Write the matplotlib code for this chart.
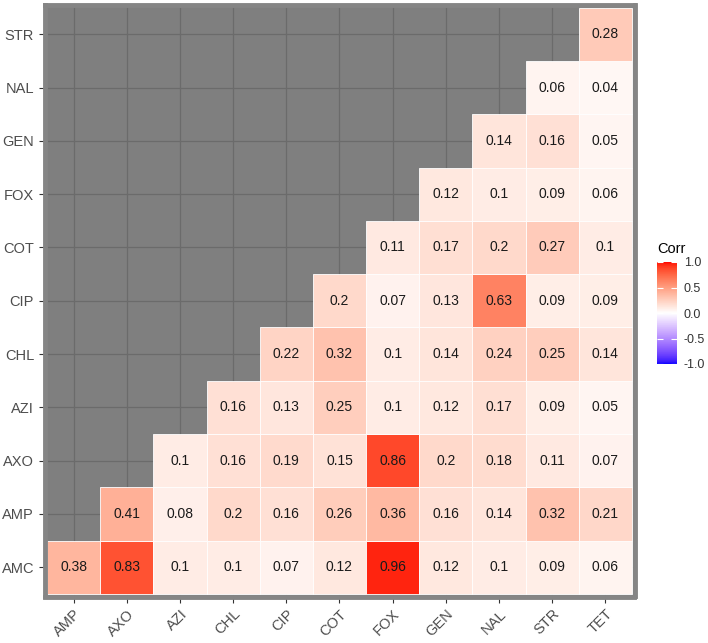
import numpy as np
import matplotlib
matplotlib.use('Agg')
import matplotlib.pyplot as plt
from matplotlib.colors import ListedColormap, Normalize
from matplotlib.patches import Rectangle
from matplotlib.cm import ScalarMappable

plt.rcParams['font.family'] = ['Liberation Sans', 'DejaVu Sans']

x_labels = ['AMP', 'AXO', 'AZI', 'CHL', 'CIP', 'COT', 'FOX', 'GEN', 'NAL', 'STR', 'TET']
y_labels = ['AMC', 'AMP', 'AXO', 'AZI', 'CHL', 'CIP', 'COT', 'FOX', 'GEN', 'NAL', 'STR']

# each row starts at the diagonal and runs to TET
row_amc = [0.38, 0.83, 0.1, 0.1, 0.07, 0.12, 0.96, 0.12, 0.1, 0.09, 0.06]
row_amp = [0.41, 0.08, 0.2, 0.16, 0.26, 0.36, 0.16, 0.14, 0.32, 0.21]
row_axo = [0.1, 0.16, 0.19, 0.15, 0.86, 0.2, 0.18, 0.11, 0.07]
row_azi = [0.16, 0.13, 0.25, 0.1, 0.12, 0.17, 0.09, 0.05]
row_chl = [0.22, 0.32, 0.1, 0.14, 0.24, 0.25, 0.14]
row_cip = [0.2, 0.07, 0.13, 0.63, 0.09, 0.09]
row_cot = [0.11, 0.17, 0.2, 0.27, 0.1]
row_fox = [0.12, 0.1, 0.09, 0.06]
row_gen = [0.14, 0.16, 0.05]
row_nal = [0.06, 0.04]
row_str = [0.28]

rows = [row_amc, row_amp, row_axo, row_azi, row_chl, row_cip,
        row_cot, row_fox, row_gen, row_nal, row_str]


def srgb_to_lab(c):
    c = np.asarray(c, float)
    lin = np.where(c <= 0.04045, c / 12.92, ((c + 0.055) / 1.055) ** 2.4)
    m = np.array([[0.4124, 0.3576, 0.1805],
                  [0.2126, 0.7152, 0.0722],
                  [0.0193, 0.1192, 0.9505]])
    xyz = m @ lin / np.array([0.95047, 1.0, 1.08883])
    f = np.where(xyz > 0.008856, np.cbrt(xyz), 7.787 * xyz + 16 / 116)
    return np.array([116 * f[1] - 16, 500 * (f[0] - f[1]), 200 * (f[1] - f[2])])


def lab_to_srgb(lab):
    L, a, b = lab
    fy = (L + 16) / 116
    fx = fy + a / 500
    fz = fy - b / 200
    f = np.array([fx, fy, fz])
    xyz = np.where(f ** 3 > 0.008856, f ** 3, (f - 16 / 116) / 7.787)
    xyz = xyz * np.array([0.95047, 1.0, 1.08883])
    m = np.array([[3.2406, -1.5372, -0.4986],
                  [-0.9689, 1.8758, 0.0415],
                  [0.0557, -0.2040, 1.0570]])
    lin = np.clip(m @ xyz, 0, 1)
    c = np.where(lin <= 0.0031308, 12.92 * lin, 1.055 * lin ** (1 / 2.4) - 0.055)
    return np.clip(c, 0, 1)


# blue - white - red gradient interpolated in Lab, like ggplot's gradient2
blue = srgb_to_lab([0, 0, 1])
white = srgb_to_lab([1, 1, 1])
red = srgb_to_lab([1, 0, 0])
cols = []
for t in np.linspace(-1, 1, 256):
    if t < 0:
        lab = white + (blue - white) * (-t)
    else:
        lab = white + (red - white) * t
    cols.append(lab_to_srgb(lab))
cmap = ListedColormap(cols)
norm = Normalize(-1, 1)

n = len(x_labels)

fig = plt.figure(figsize=(7.08, 6.43), dpi=100)
W, H = 708, 643
left, right, top, bottom = 44.5, 634.5, 5, 596.5
ax = fig.add_axes([left / W, (H - bottom) / H, (right - left) / W, (bottom - top) / H])
ax.set_facecolor('#7f7f7f')

for i, r in enumerate(rows):
    for k, v in enumerate(r):
        j = i + k
        ax.add_patch(Rectangle((j - 0.5, i - 0.5), 1, 1, facecolor=cmap(norm(v)),
                               edgecolor='white', linewidth=0.6, zorder=2))
        ax.text(j, i, f'{v:g}', ha='center', va='center', fontsize=10,
                color='#1a1a1a', zorder=3)

pad = 0.05
ax.set_xlim(-0.5 - pad, n - 0.5 + pad)
ax.set_ylim(-0.5 - pad, n - 0.5 + pad)
ax.set_xticks(range(n))
ax.set_yticks(range(n))
ax.set_xticklabels(x_labels, rotation=45, ha='right', rotation_mode='anchor')
ax.set_yticklabels(y_labels)
ax.tick_params(colors='#333333', labelcolor='#4d4d4d', labelsize=10.5, length=4, width=0.8)
ax.grid(True, color='#6b6b6b', linewidth=0.9, zorder=0)
ax.set_axisbelow(True)
for s in ax.spines.values():
    s.set_color('#858585')
    s.set_linewidth(3.5)
    s.set_zorder(4)

cax = fig.add_axes([657 / W, (H - 364) / H, 20 / W, 102 / H])
sm = ScalarMappable(norm=norm, cmap=cmap)
cbar = fig.colorbar(sm, cax=cax, ticks=[-1, -0.5, 0, 0.5, 1])
cbar.ax.set_yticklabels(['-1.0', '-0.5', '0.0', '0.5', '1.0'])
cbar.outline.set_visible(False)
cbar.ax.tick_params(direction='in', color='white', length=4, width=0.8,
                    left=True, right=True, labelsize=9, labelcolor='#333333', pad=5)
fig.text(657 / W, (H - 249) / H, 'Corr', fontsize=10.5, ha='left', va='center')

fig.savefig('out.png', dpi=100)
